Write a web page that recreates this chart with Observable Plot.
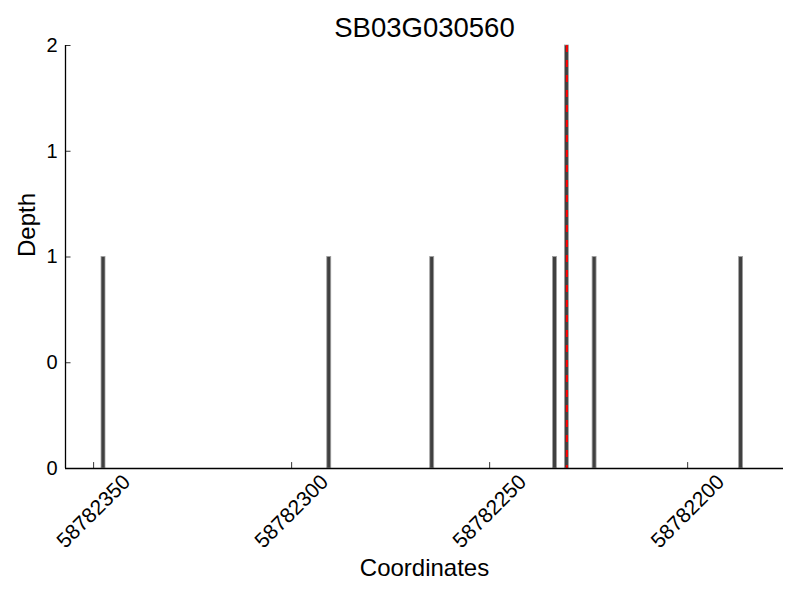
<!DOCTYPE html>
<html>
<head>
<meta charset="utf-8">
<script src="https://cdn.jsdelivr.net/npm/d3@7"></script>
<script src="https://cdn.jsdelivr.net/npm/@observablehq/plot@0.6"></script>
<style>
  html, body { margin: 0; padding: 0; background: #fff; }
  svg { font-family: "Liberation Sans", Arial, sans-serif; }
</style>
</head>
<body>
<div id="chart"></div>
<script>
const title = "SB03G030560";
const xLabel = "Coordinates";
const yLabel = "Depth";
// coverage positions (bin start) and depth
const positions = [58782347, 58782290, 58782264, 58782233, 58782230, 58782223, 58782186];
const depths    = [1, 1, 1, 1, 2, 1, 1];
const markerPos = 58782230.5;
const xDomain = [58782357.1, 58782175.8];
const yDomain = [0, 2];
const xTicks = [58782350, 58782300, 58782250, 58782200];
const xTickLabels = ["58782350", "58782300", "58782250", "58782200"];
const yTicks = [0, 0.5, 1, 1.5, 2];
const yTickLabels = ["0", "0", "1", "1", "2"];

const data = positions.map((p, i) => ({pos: p, depth: depths[i]}));
const xt = xTicks.map((t, i) => ({t, label: xTickLabels[i]}));
const yt = yTicks.map((t, i) => ({t, label: yTickLabels[i]}));

const chart = Plot.plot({
  width: 800,
  height: 600,
  marginLeft: 65,
  marginRight: 17,
  marginTop: 45,
  marginBottom: 132,
  style: {fontFamily: "Liberation Sans, Arial, sans-serif", background: "#fff"},
  x: {domain: xDomain, axis: null},
  y: {domain: yDomain, axis: null},
  marks: [
    Plot.rectY(data, {x: "pos", y: "depth", interval: 1, fill: "#404040", stroke: "#a0a0a0", strokeWidth: 0.8, inset: 0}),
    Plot.ruleX([markerPos], {stroke: "red", strokeWidth: 2, strokeDasharray: "7,8"}),
    // axes lines
    Plot.ruleY([0], {stroke: "#000", strokeWidth: 1.3, x1: xDomain[0], x2: xDomain[1]}),
    Plot.ruleX([xDomain[0]], {stroke: "#000", strokeWidth: 1.3}),
    // inward ticks
    Plot.ruleX(xt, {x: "t", y1: 0, y2: 0.028, stroke: "#000", strokeWidth: 0.8}),
    Plot.ruleY(yt, {y: "t", x1: xDomain[0], x2: xDomain[0] - 1.4, stroke: "#000", strokeWidth: 0.8}),
    // tick labels
    Plot.text(xt, {x: "t", frameAnchor: "bottom", dy: 43, rotate: -45, text: "label", fontSize: 21, fill: "#000", textAnchor: "middle", lineAnchor: "middle"}),
    Plot.text(yt, {y: "t", frameAnchor: "left", dx: -8, text: "label", fontSize: 20, fill: "#000", textAnchor: "end", lineAnchor: "middle"}),
    // titles
    Plot.text([title], {frameAnchor: "top", dy: -17, fontSize: 27.5, fill: "#000", lineAnchor: "middle"}),
    Plot.text([xLabel], {frameAnchor: "bottom", dy: 100, fontSize: 24, fill: "#000", lineAnchor: "middle"}),
    Plot.text([yLabel], {frameAnchor: "left", dx: -38, rotate: -90, fontSize: 24, fill: "#000", lineAnchor: "middle"})
  ]
});
document.getElementById("chart").appendChild(chart);
</script>
</body>
</html>
